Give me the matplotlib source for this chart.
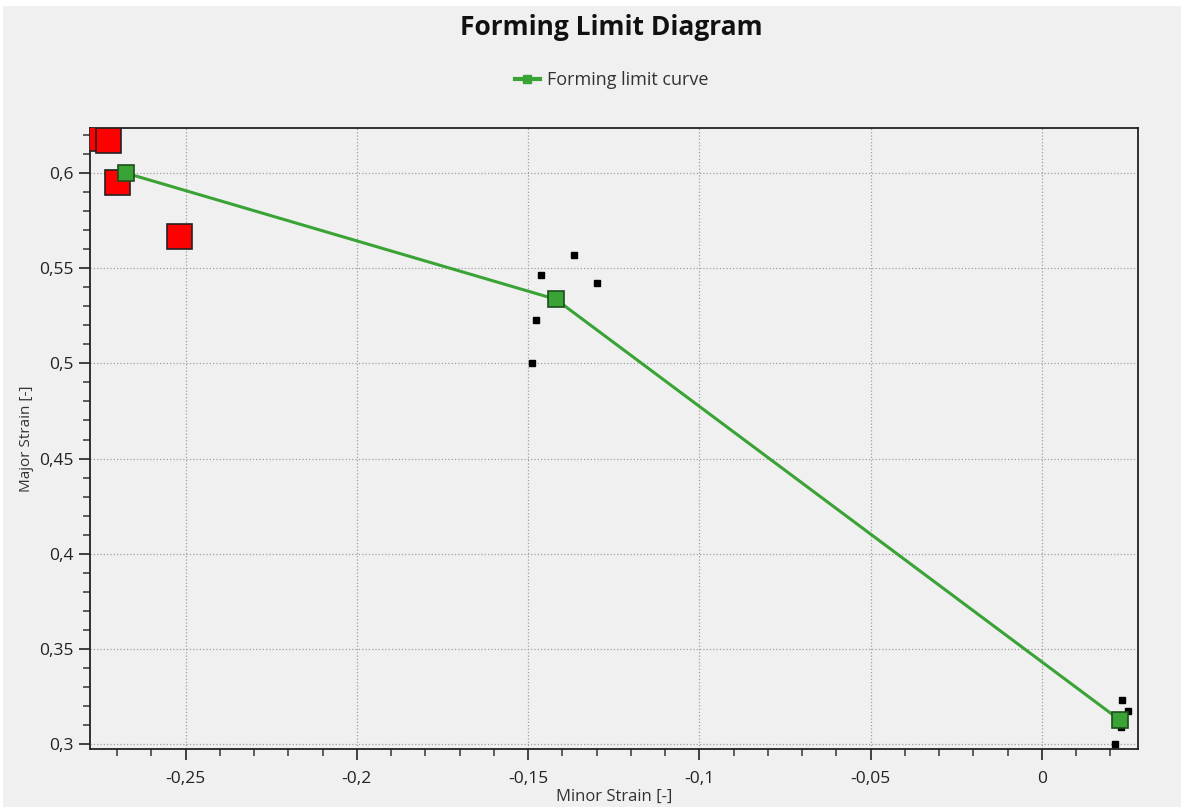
import numpy as np
import matplotlib.pyplot as plt
from matplotlib.ticker import FuncFormatter, MultipleLocator
from matplotlib.patches import Rectangle
from matplotlib.lines import Line2D

# forming limit curve
flc_minor = [-0.2674, -0.1419, 0.0228]
flc_major = [0.600, 0.5337, 0.3126]

# failed points (red)
fail_minor = [-0.2785, -0.2726, -0.2700, -0.2519]
fail_major = [0.6185, 0.6174, 0.5953, 0.5668]

# measured points (black)
meas_minor = [-0.1366, -0.1461, -0.1298, -0.1478, -0.1489,
              0.0233, 0.0251, 0.0230, 0.0213]
meas_major = [0.5567, 0.5462, 0.5420, 0.5230, 0.5002,
              0.3230, 0.3174, 0.3088, 0.2998]

bg = "#f0f0f0"
green = '#3aa335'
plt.rcParams['font.family'] = ['Open Sans', 'DejaVu Sans']

fig = plt.figure(figsize=(11.81, 8.07), dpi=100, facecolor=bg)
# white screenshot border at top / left
fig.patches.append(Rectangle((0, 1 - 6 / 807), 1, 6 / 807, transform=fig.transFigure,
                             facecolor='white', edgecolor='none', zorder=-1))
fig.patches.append(Rectangle((0, 0), 3 / 1181, 1, transform=fig.transFigure,
                             facecolor='white', edgecolor='none', zorder=-1))

ax = fig.add_axes([0.0762, 0.0719, 0.8874, 0.7695], facecolor=bg)

ax.plot(meas_minor, meas_major, 's', color='black', ms=5, mec='black', zorder=3)
ax.plot(fail_minor, fail_major, 's', color='#ff0000', ms=18, mec='#222222',
        mew=1.2, zorder=4, clip_on=True)
ax.plot(flc_minor, flc_major, '-s', color=green, lw=2.2, ms=11,
        mfc=green, mec='#1e4d1c', mew=1.2, zorder=5)

ax.set_xlim(-0.2779, 0.0281)
ax.set_ylim(0.2974, 0.6237)

ax.xaxis.set_major_locator(MultipleLocator(0.05))
ax.xaxis.set_minor_locator(MultipleLocator(0.01))
ax.yaxis.set_major_locator(MultipleLocator(0.05))
ax.yaxis.set_minor_locator(MultipleLocator(0.01))

def comma(v, pos):
    s = ('%.2f' % v).rstrip('0').rstrip('.')
    if s in ('-0', '0'):
        s = '0'
    return s.replace('.', ',')

ax.xaxis.set_major_formatter(FuncFormatter(comma))
ax.yaxis.set_major_formatter(FuncFormatter(comma))

ax.grid(True, which='major', linestyle=':', color='#a0a0a0', lw=0.9)
ax.tick_params(which='major', length=8, width=1.3, color='#333333',
               labelsize=12.5, labelcolor='#222222', direction='out')
ax.tick_params(axis='x', which='major', pad=8)
ax.tick_params(which='minor', length=5, width=1.1, color='#333333', direction='out')
for sp in ax.spines.values():
    sp.set_color('#222222')
    sp.set_linewidth(1.3)

ax.set_xlabel('Minor Strain [-]', fontsize=12, color='#333333', labelpad=1)
ax.set_ylabel('Major Strain [-]', fontsize=11, color='#333333', labelpad=4)

fig.text(0.518, 0.966, 'Forming Limit Diagram', ha='center', va='center',
         fontsize=19, fontweight='bold', color='#111111')
handle = Line2D([], [], color=green, lw=3, marker='s', ms=6, mfc=green, mec=green)
leg = fig.legend([handle], ['Forming limit curve'], loc='center',
                 bbox_to_anchor=(0.518, 0.901), frameon=False,
                 fontsize=13, handlelength=1.4, handletextpad=0.4)
for t in leg.get_texts():
    t.set_color('#333333')

fig.savefig('out.png', dpi=100, facecolor=bg)
